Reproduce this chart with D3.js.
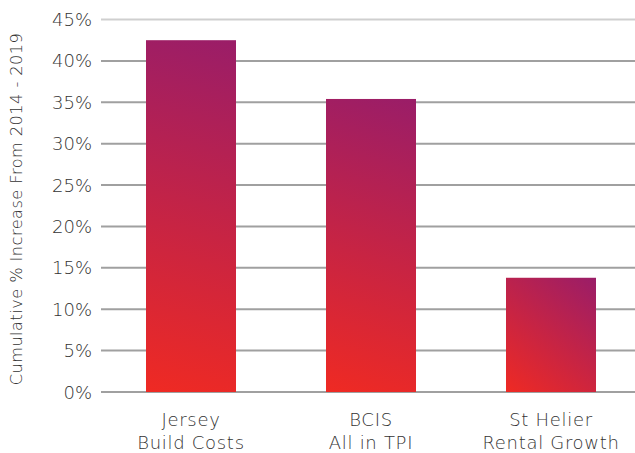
<!DOCTYPE html>
<html><head><meta charset="utf-8">
<script src="https://cdn.jsdelivr.net/npm/d3@7"></script>
<style>body{margin:0;background:#fff}svg{display:block}text{font-family:"DejaVu Sans",sans-serif;fill:#333;font-weight:200}</style>
</head><body><svg id="c" width="635" height="453"></svg>
<script>
const categories = [["Jersey","Build Costs"],["BCIS","All in TPI"],["St Helier","Rental Growth"]];
const values = [42.5, 35.4, 13.8];
const yTicks = [0,5,10,15,20,25,30,35,40,45];
const yTitle = "Cumulative % Increase From 2014 - 2019";

const svg = d3.select("#c");
const y = d3.scaleLinear().domain([0,45]).range([392,19.5]);
const x = d3.scaleBand().domain(d3.range(categories.length)).range([101,641]).paddingInner(0.5).paddingOuter(0.25);

const defs = svg.append("defs");
values.forEach((v,i)=>{
  const g = defs.append("linearGradient").attr("id","grad"+i).attr("gradientUnits","userSpaceOnUse")
    .attr("x1",x(i)).attr("y1",y(0)).attr("x2",x(i)+x.bandwidth()).attr("y2",y(v));
  g.append("stop").attr("offset","0%").attr("stop-color","#ef2a23");
  g.append("stop").attr("offset","100%").attr("stop-color","#9a1d68");
});

svg.append("g").selectAll("line").data(yTicks).join("line")
  .attr("x1",101).attr("x2",635).attr("y1",d=>y(d)).attr("y2",d=>y(d))
  .attr("stroke",d=>d===45?"#cfcfcf":"#a0a0a0").attr("stroke-width",2);

svg.append("g").selectAll("text").data(yTicks).join("text")
  .attr("x",92).attr("y",d=>y(d)+6.5).attr("text-anchor","end")
  .style("font-size","18px").text(d=>d+"%");

svg.append("g").selectAll("rect").data(values).join("rect")
  .attr("x",(d,i)=>x(i)).attr("width",x.bandwidth())
  .attr("y",d=>y(d)).attr("height",d=>y(0)-y(d)).attr("fill",(d,i)=>`url(#grad${i})`);

const lab = svg.append("g").selectAll("text").data(categories).join("text")
  .attr("text-anchor","middle").style("font-size","18px").style("letter-spacing","0.7px");
lab.selectAll("tspan").data((d,i)=>d.map(t=>({t,i}))).join("tspan")
  .attr("x",d=>x(d.i)+x.bandwidth()/2).attr("y",(d,j)=>426+j*22.5).text(d=>d.t);

svg.append("text").attr("transform","translate(22,209) rotate(-90)")
  .attr("text-anchor","middle").style("font-size","16.2px").style("letter-spacing","0.45px").text(yTitle);
</script></body></html>
